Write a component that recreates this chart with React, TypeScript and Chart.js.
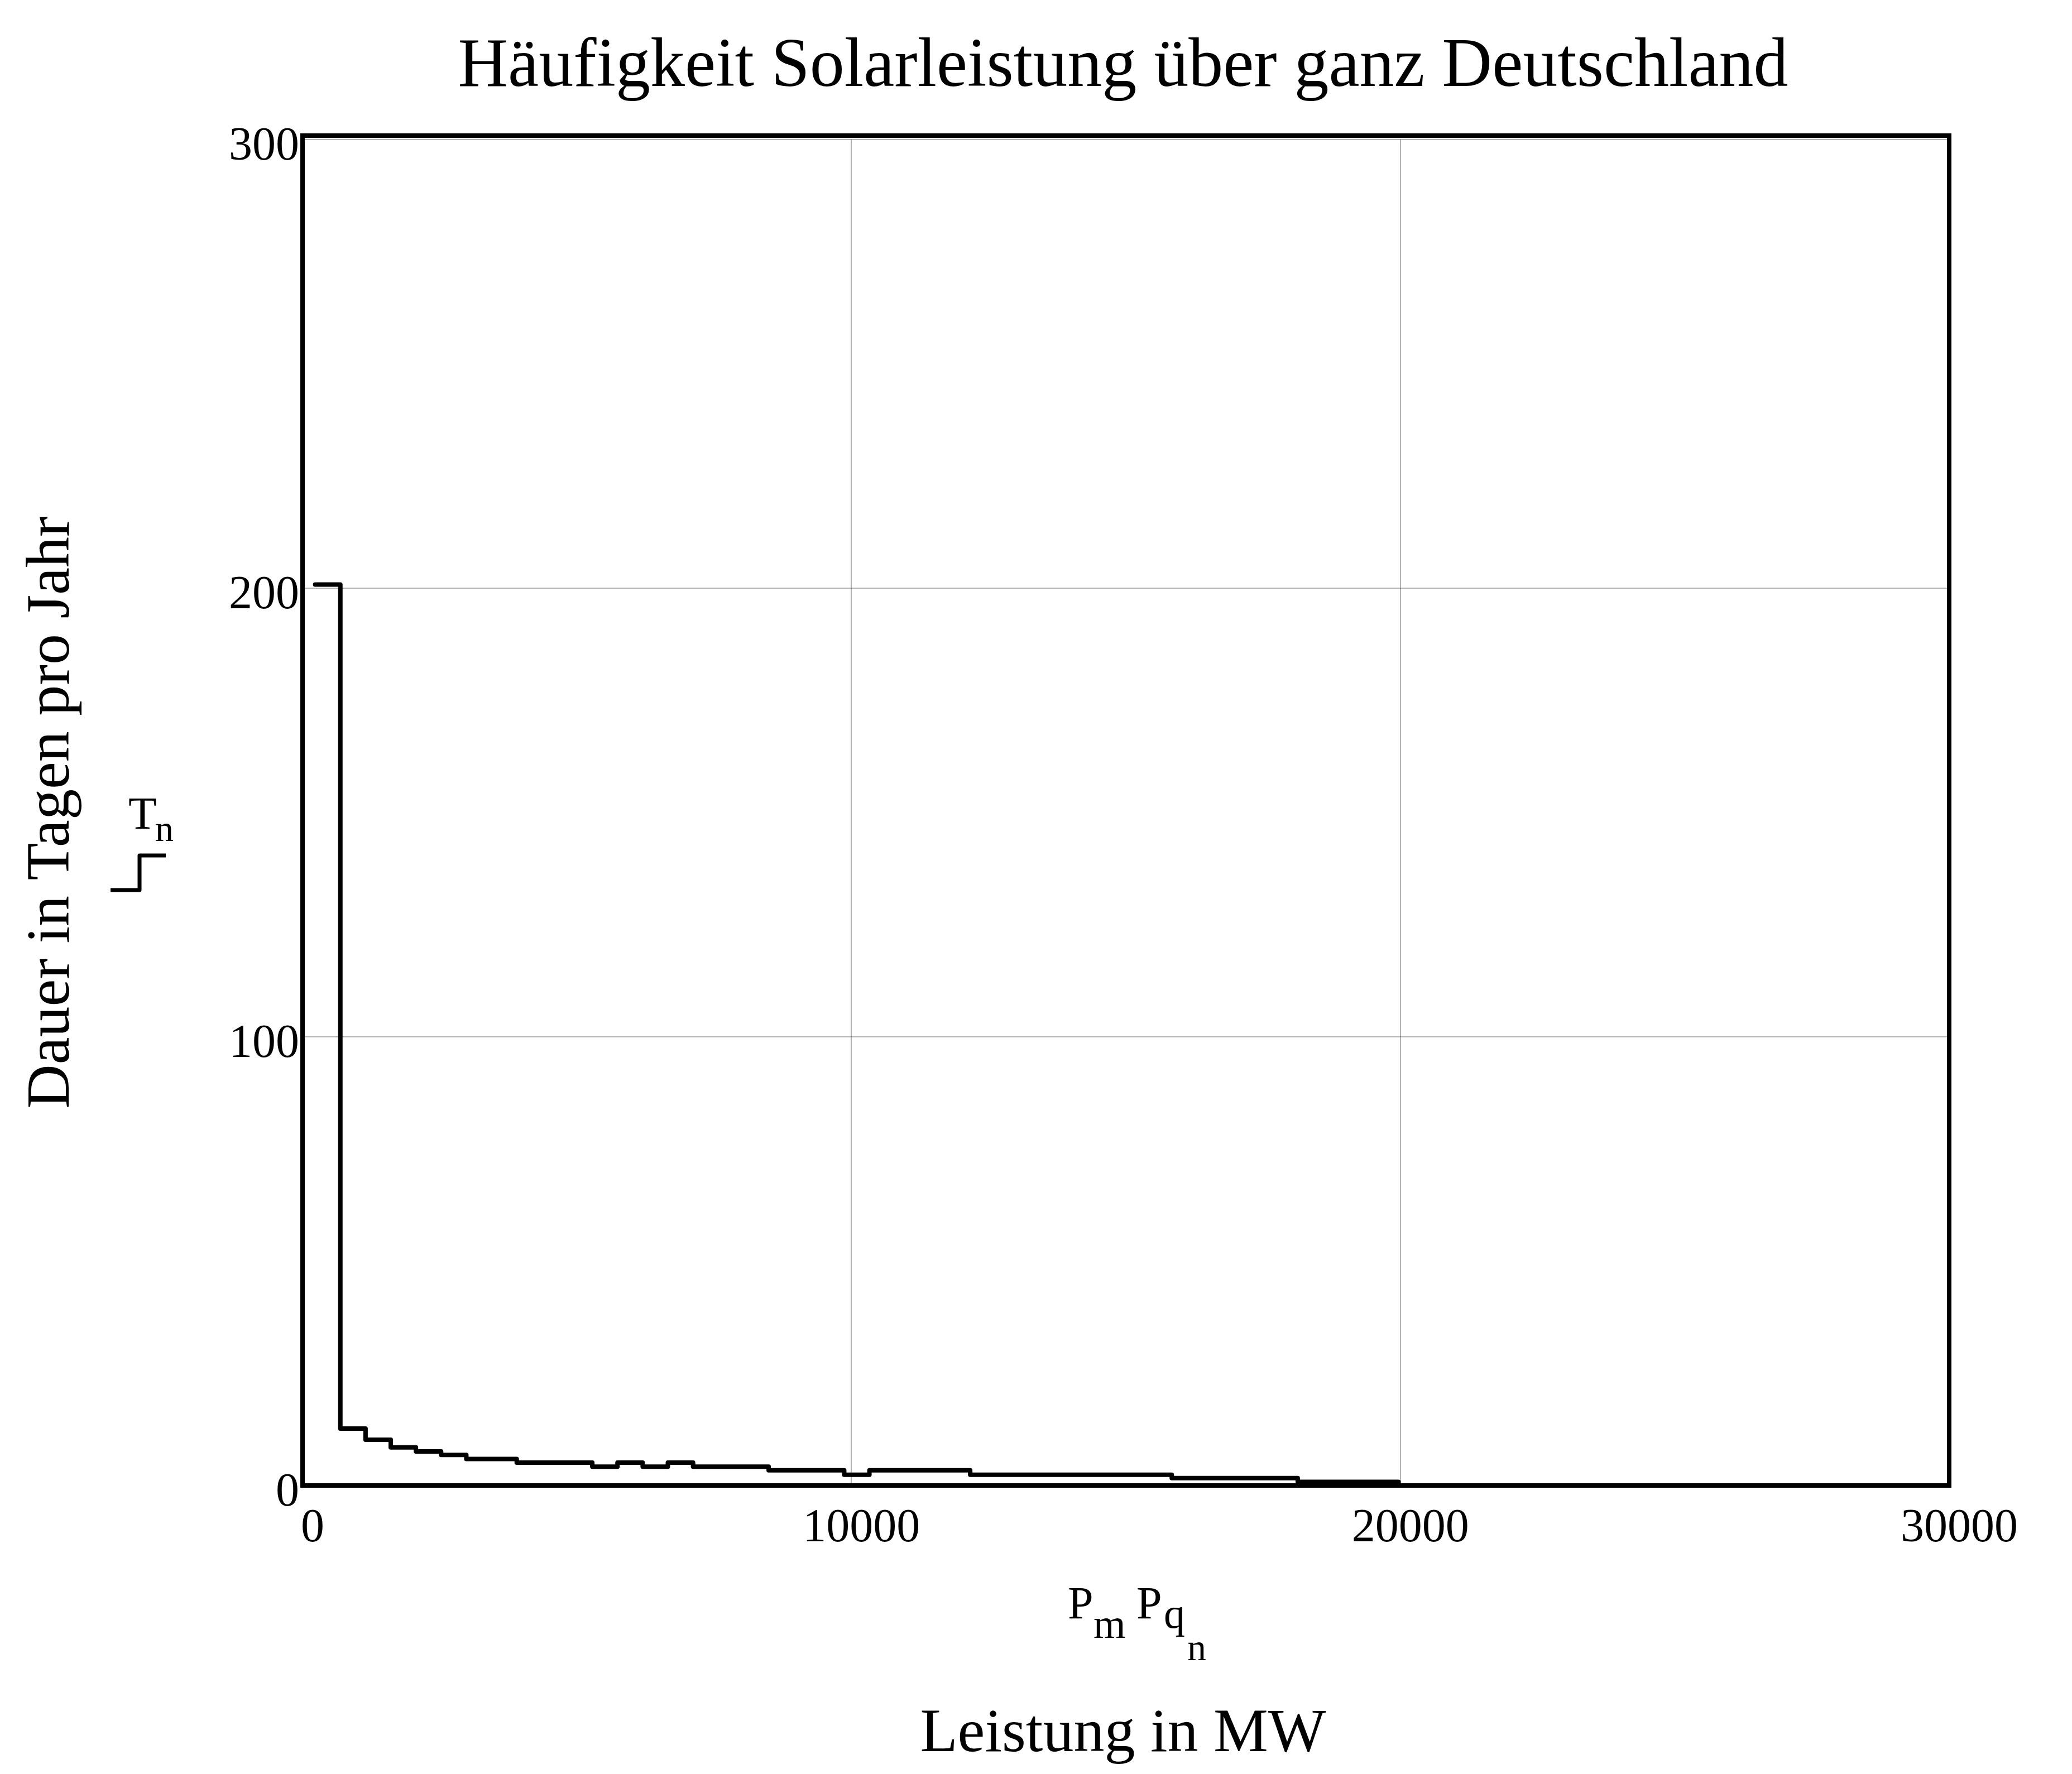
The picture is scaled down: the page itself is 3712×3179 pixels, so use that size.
import React, { useEffect, useRef } from 'react';
import { Chart, registerables } from 'chart.js';

Chart.register(...registerables);

// ---- data ----
const powerMW = [
  230, 689, 1148, 1607, 2066, 2525, 2984, 3443, 3902, 4361, 4820,
  5279, 5738, 6197, 6656, 7115, 7574, 8033, 8492, 8951, 9410,
  9869, 10328, 10787, 11246, 11705, 12164, 12623, 13082, 13541, 14000,
  14459, 14918, 15377, 15836, 16295, 16754, 17213, 17672, 18131, 18590,
  19049, 19508, 19967,
];
const daysPerYear = [
  200.8, 12.7, 10.2, 8.5, 7.6, 6.8, 5.9, 5.9, 5.1, 5.1, 5.1,
  4.2, 5.1, 4.2, 5.1, 4.2, 4.2, 4.2, 3.4, 3.4, 3.4,
  2.4, 3.4, 3.4, 3.4, 3.4, 2.4, 2.4, 2.4, 2.4, 2.4,
  2.4, 2.4, 2.4, 1.65, 1.65, 1.65, 1.65, 1.65, 0.8, 0.8,
  0.8, 0.8, 0,
];
const xTickValues = [0, 10000, 20000, 30000];
const xTickLabels = ['0', '10000', '20000', '30000'];
const yTickValues = [0, 100, 200, 300];
const yTickLabels = ['0', '100', '200', '300'];

const TITLE = 'Häufigkeit Solarleistung über ganz Deutschland';
const Y_TITLE = 'Dauer in Tagen pro Jahr';
const X_TITLE = 'Leistung in MW';
const LEGEND_MAIN = 'T';
const LEGEND_SUB = 'n';
const XVAR_PARTS = ['P', 'm', 'P', 'q', 'n'];

const FONT = '"Liberation Serif", "Times New Roman", serif';
const W = 3712;
const H = 3179;

const decorPlugin = {
  id: 'decor',
  afterDatasetsDraw(chart: any) {
    const { ctx, chartArea: a } = chart;
    ctx.save();
    // frame
    ctx.strokeStyle = '#000';
    ctx.lineWidth = 8;
    ctx.lineJoin = 'miter';
    ctx.strokeRect(a.left, a.top - 7, a.right - a.left, a.bottom - a.top + 7);

    ctx.fillStyle = '#000';
    ctx.textBaseline = 'alphabetic';

    // title
    ctx.font = `124px ${FONT}`;
    ctx.textAlign = 'center';
    ctx.fillText(TITLE, 2012, 154);

    // y title
    ctx.save();
    ctx.translate(123, 1456);
    ctx.rotate(-Math.PI / 2);
    ctx.font = `110px ${FONT}`;
    ctx.textAlign = 'center';
    ctx.fillText(Y_TITLE, 0, 0);
    ctx.restore();

    // trace legend
    ctx.textAlign = 'left';
    ctx.font = `83px ${FONT}`;
    ctx.fillText(LEGEND_MAIN, 230, 1485);
    ctx.font = `66px ${FONT}`;
    ctx.fillText(LEGEND_SUB, 278, 1507);
    ctx.lineWidth = 7;
    ctx.lineJoin = 'round';
    ctx.beginPath();
    ctx.moveTo(198, 1595);
    ctx.lineTo(250, 1595);
    ctx.lineTo(250, 1533);
    ctx.lineTo(297, 1533);
    ctx.stroke();

    // x variable
    ctx.font = `82px ${FONT}`;
    ctx.fillText(XVAR_PARTS[0], 1913, 2900);
    ctx.font = `74px ${FONT}`;
    ctx.fillText(XVAR_PARTS[1], 1959, 2935);
    ctx.font = `82px ${FONT}`;
    ctx.fillText(XVAR_PARTS[2], 2036, 2900);
    ctx.font = `76px ${FONT}`;
    ctx.fillText(XVAR_PARTS[3], 2085, 2917);
    ctx.font = `68px ${FONT}`;
    ctx.fillText(XVAR_PARTS[4], 2127, 2975);

    // x title
    ctx.font = `110px ${FONT}`;
    ctx.textAlign = 'center';
    ctx.fillText(X_TITLE, 2012, 3138);
    ctx.restore();
  },
};

export default function App() {
  const ref = useRef<HTMLCanvasElement | null>(null);

  useEffect(() => {
    if (!ref.current) return;
    const points = powerMW.map((x, i) => ({ x, y: daysPerYear[i] }));
    const chart = new Chart(ref.current, {
      type: 'line',
      data: {
        datasets: [
          {
            data: points,
            stepped: 'before',
            borderColor: '#000',
            borderWidth: 8,
            borderJoinStyle: 'round',
            borderCapStyle: 'round',
            pointRadius: 0,
            fill: false,
          } as any,
        ],
      },
      options: {
        animation: false,
        responsive: false,
        devicePixelRatio: 1,
        events: [],
        layout: { padding: { top: 250, right: 220, left: 0, bottom: 0 } },
        plugins: { legend: { display: false }, tooltip: { enabled: false }, title: { display: false } },
        scales: {
          x: {
            type: 'linear',
            min: 0,
            max: 30000,
            afterBuildTicks: (s: any) => {
              s.ticks = xTickValues.map((v) => ({ value: v }));
            },
            afterFit: (s: any) => {
              s.height = H - 2662;
            },
            ticks: {
              callback: (v: any) => xTickLabels[xTickValues.indexOf(Number(v))] ?? '',
              font: { family: FONT, size: 84 },
              color: '#000',
              padding: 28,
              labelOffset: 18,
              maxRotation: 0,
              autoSkip: false,
            },
            grid: { color: 'rgba(0,0,0,0.3)', lineWidth: 2, drawTicks: false },
            border: { display: false },
          },
          y: {
            type: 'linear',
            min: 0,
            max: 300,
            afterBuildTicks: (s: any) => {
              s.ticks = yTickValues.map((v) => ({ value: v }));
            },
            afterFit: (s: any) => {
              s.width = 542;
            },
            ticks: {
              callback: (v: any) => yTickLabels[yTickValues.indexOf(Number(v))] ?? '',
              font: { family: FONT, size: 84 },
              color: '#000',
              padding: 6,
              labelOffset: 14,
              autoSkip: false,
            },
            grid: { color: 'rgba(0,0,0,0.3)', lineWidth: 2, drawTicks: false },
            border: { display: false },
          },
        },
      } as any,
      plugins: [decorPlugin],
    });
    return () => chart.destroy();
  }, []);

  return (
    <div style={{ position: 'absolute', left: 0, top: 0, width: W, height: H, background: '#fff' }}>
      <canvas ref={ref} width={W} height={H} style={{ width: W, height: H, display: 'block' }} />
    </div>
  );
}
